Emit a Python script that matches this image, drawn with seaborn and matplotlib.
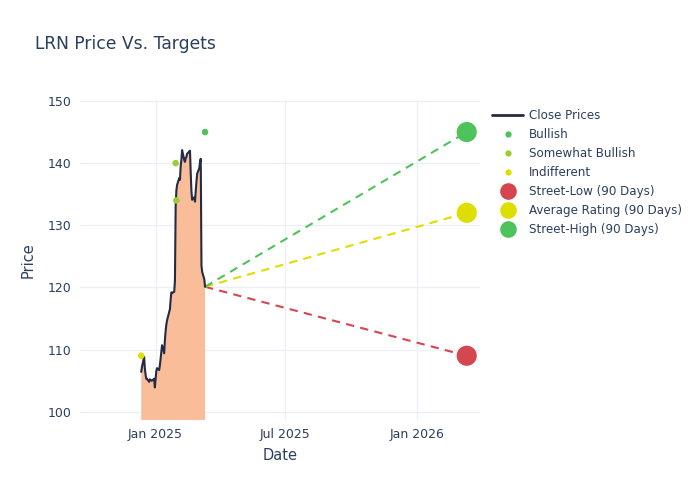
import matplotlib
matplotlib.use("Agg")
import matplotlib.pyplot as plt
import matplotlib.dates as mdates
from matplotlib.lines import Line2D
import seaborn as sns
import pandas as pd

# ---- data ----
price_dates = [
    "2024-12-12", "2024-12-13", "2024-12-16", "2024-12-17", "2024-12-18", "2024-12-19", "2024-12-20",
    "2024-12-23", "2024-12-24", "2024-12-26", "2024-12-27", "2024-12-30", "2024-12-31",
    "2025-01-02", "2025-01-03", "2025-01-06", "2025-01-07", "2025-01-08", "2025-01-10", "2025-01-13",
    "2025-01-14", "2025-01-15", "2025-01-16", "2025-01-17", "2025-01-21", "2025-01-22", "2025-01-23",
    "2025-01-24", "2025-01-27", "2025-01-28", "2025-01-29", "2025-01-30", "2025-01-31",
    "2025-02-03", "2025-02-04", "2025-02-05", "2025-02-06", "2025-02-07", "2025-02-10", "2025-02-11",
    "2025-02-12", "2025-02-13", "2025-02-14", "2025-02-18", "2025-02-19", "2025-02-20", "2025-02-21",
    "2025-02-24", "2025-02-25", "2025-02-26", "2025-02-27", "2025-02-28",
    "2025-03-03", "2025-03-04", "2025-03-05", "2025-03-06", "2025-03-07", "2025-03-10", "2025-03-11",
]
close_prices = [
    106.4, 107.2, 108.8, 107.0, 106.0, 105.3, 105.3, 104.8, 105.2, 105.0, 105.0, 105.3, 103.9,
    106.5, 107.0, 106.7, 107.5, 108.5, 110.7, 109.4, 111.5, 113.0, 114.0, 114.7, 116.5, 118.0, 119.2,
    119.1, 119.3, 121.0, 133.0, 135.6, 136.5,
    137.6, 137.3, 139.5, 140.5, 142.1, 140.5, 140.2, 140.8, 141.0, 141.5, 142.0, 138.5, 135.5, 134.1,
    134.5, 133.8, 135.5, 137.0, 138.3,
    139.2, 140.2, 140.7, 123.5, 122.5, 121.3, 120.1,
]

rating_dates = ["2024-12-12", "2025-01-29", "2025-01-30", "2025-03-11"]
rating_prices = [109.0, 140.0, 134.0, 145.0]
rating_labels = ["Indifferent", "Somewhat Bullish", "Somewhat Bullish", "Bullish"]

target_date = "2026-03-11"
target_names = ["Street-Low (90 Days)", "Average Rating (90 Days)", "Street-High (90 Days)"]
target_values = [109.0, 132.0, 145.0]

x_ticks = ["2025-01-01", "2025-07-01", "2026-01-01"]
y_ticks = [100, 110, 120, 130, 140, 150]

# ---- styling ----
TEXT = "#2a3f5f"
GRID = "#ebf0f8"
LINE = "#232b45"
FILL = "#f9bd99"
rating_colors = {"Bullish": "#4fc35b", "Somewhat Bullish": "#9acd32", "Indifferent": "#dede00"}
target_colors = ["#d6464f", "#dede00", "#4fc35b"]

sns.set_theme(style="white")
plt.rcParams["font.family"] = ["DejaVu Sans"]

prices = pd.DataFrame({"Date": pd.to_datetime(price_dates), "Close": close_prices})
ratings = pd.DataFrame({"Date": pd.to_datetime(rating_dates), "Price": rating_prices,
                        "Rating": rating_labels})
targets = pd.DataFrame({"Date": pd.to_datetime([target_date] * 3), "Value": target_values,
                        "Name": target_names})

fig = plt.figure(figsize=(7, 5), dpi=100)
ax = fig.add_axes([80 / 700, 80 / 500, 400 / 700, 320 / 500])
ax.set_facecolor("white")

ax.fill_between(prices["Date"], prices["Close"], 0, color=FILL, linewidth=0, zorder=1)
sns.lineplot(data=prices, x="Date", y="Close", ax=ax, color=LINE, linewidth=1.5, zorder=3,
             legend=False)

last_date = prices["Date"].iloc[-1]
last_price = prices["Close"].iloc[-1]
for i, row in targets.iterrows():
    ax.plot([last_date, row["Date"]], [last_price, row["Value"]], linestyle=(0, (4, 3)),
            color=target_colors[i], linewidth=1.5, zorder=2)

sns.scatterplot(data=ratings, x="Date", y="Price", hue="Rating", palette=rating_colors, ax=ax,
                s=22, edgecolor="none", zorder=4, legend=False)
sns.scatterplot(data=targets, x="Date", y="Value", hue="Name",
                palette=dict(zip(target_names, target_colors)), ax=ax, s=210,
                edgecolor="none", zorder=5, legend=False)

ax.set_xlim(pd.Timestamp("2024-09-17 14:00"), pd.Timestamp("2026-03-29 12:00"))
ax.set_ylim(98.66, 150.16)
ax.set_xticks(pd.to_datetime(x_ticks))
ax.xaxis.set_major_formatter(mdates.DateFormatter("%b %Y"))
ax.set_yticks(y_ticks)
for s in ax.spines.values():
    s.set_visible(False)
ax.grid(True, color=GRID, linewidth=1)
ax.set_axisbelow(True)
ax.tick_params(axis="both", length=0, labelsize=9, colors=TEXT)
ax.tick_params(axis="x", pad=6)
ax.tick_params(axis="y", pad=6)
ax.set_xlabel("Date", fontsize=10.5, color=TEXT, labelpad=5)
ax.set_ylabel("Price", fontsize=10.5, color=TEXT, labelpad=9)

fig.text(35 / 700, 1 - 44 / 500, "LRN Price Vs. Targets", fontsize=12.3, color=TEXT,
         ha="left", va="center")

handles = [Line2D([], [], color=LINE, linewidth=2, label="Close Prices")]
for name in ["Bullish", "Somewhat Bullish", "Indifferent"]:
    handles.append(Line2D([], [], linestyle="none", marker="o", markersize=4.5,
                          markerfacecolor=rating_colors[name], markeredgecolor="none", label=name))
for name, c in zip(target_names, target_colors):
    handles.append(Line2D([], [], linestyle="none", marker="o", markersize=12,
                          markerfacecolor=c, markeredgecolor="none", label=name))
leg = fig.legend(handles=handles, loc="upper left", bbox_to_anchor=(492 / 700, 1 - 109 / 500),
                 frameon=False, fontsize=8.6, handlelength=2.6, handletextpad=0.5,
                 labelspacing=0.5, borderaxespad=0, borderpad=0)
for t in leg.get_texts():
    t.set_color(TEXT)

fig.savefig("out.png", dpi=100, facecolor="white")
